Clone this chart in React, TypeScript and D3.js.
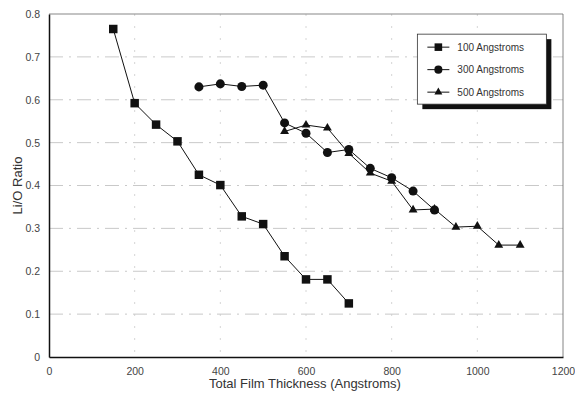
import React, { useRef, useEffect } from 'react'
import * as d3 from 'd3'

const xTicks = [0, 200, 400, 600, 800, 1000, 1200]
const yTicks = [0, 0.1, 0.2, 0.3, 0.4, 0.5, 0.6, 0.7, 0.8]

const thick100 = [150, 200, 250, 300, 350, 400, 450, 500, 550, 600, 650, 700]
const ratio100 = [0.765, 0.592, 0.542, 0.503, 0.425, 0.401, 0.328, 0.31, 0.235, 0.181, 0.181, 0.125]

const thick300 = [350, 400, 450, 500, 550, 600, 650, 700, 750, 800, 850, 900]
const ratio300 = [0.63, 0.637, 0.631, 0.634, 0.546, 0.522, 0.477, 0.484, 0.44, 0.418, 0.387, 0.343]

const thick500 = [550, 600, 650, 700, 750, 800, 850, 900, 950, 1000, 1050, 1100]
const ratio500 = [0.526, 0.541, 0.534, 0.475, 0.429, 0.41, 0.343, 0.345, 0.303, 0.305, 0.261, 0.261]

const seriesNames = ['100 Angstroms', '300 Angstroms', '500 Angstroms']

const W = 575
const H = 395

export default function App() {
  const svgRef = useRef<SVGSVGElement>(null)

  useEffect(() => {
    if (!svgRef.current) return
    const svg = d3.select(svgRef.current)
    svg.selectAll('*').remove()

    const margin = { top: 14, right: 12, bottom: 38, left: 49 }
    const width = W - margin.left - margin.right
    const height = H - margin.top - margin.bottom
    const font = 'Liberation Sans, Arial, sans-serif'

    const g = svg.append('g').attr('transform', `translate(${margin.left},${margin.top})`)

    const x = d3.scaleLinear().domain([0, 1200]).range([0, width])
    const y = d3.scaleLinear().domain([0, 0.8]).range([height, 0])

    // faint broken grid, like the scanned original
    g.append('g')
      .selectAll('line')
      .data(yTicks.slice(1, -1))
      .join('line')
      .attr('x1', 0).attr('x2', width)
      .attr('y1', d => y(d)).attr('y2', d => y(d))
      .attr('stroke', '#bbb')
      .attr('stroke-width', 0.8)
      .attr('stroke-dasharray', '14,6,2,6')

    g.append('g')
      .selectAll('line')
      .data(xTicks.slice(1, -1))
      .join('line')
      .attr('x1', d => x(d)).attr('x2', d => x(d))
      .attr('y1', 0).attr('y2', height)
      .attr('stroke', '#ccc')
      .attr('stroke-width', 0.8)
      .attr('stroke-dasharray', '2,10')

    // frame
    g.append('line').attr('x1', 0).attr('x2', width).attr('y1', 0).attr('y2', 0)
      .attr('stroke', '#888').attr('stroke-width', 1.2)
    g.append('line').attr('x1', width).attr('x2', width).attr('y1', 0).attr('y2', height)
      .attr('stroke', '#666').attr('stroke-width', 0.8)

    const xAxis = g.append('g')
      .attr('transform', `translate(0,${height})`)
      .call(d3.axisBottom(x).tickValues(xTicks).tickSize(0).tickPadding(11).tickFormat(d3.format('d')))
    xAxis.select('.domain').attr('stroke', '#111').attr('stroke-width', 1.5)
    xAxis.selectAll('text').attr('font-family', font).attr('font-size', 10.5).attr('fill', '#444')

    const yAxis = g.append('g')
      .call(d3.axisLeft(y).tickValues(yTicks).tickSize(0).tickPadding(9)
        .tickFormat(d => (+d === 0 ? '0' : d3.format('.1f')(+d))))
    yAxis.select('.domain').attr('stroke', '#111').attr('stroke-width', 1.5)
    yAxis.selectAll('text').attr('font-family', font).attr('font-size', 10.5).attr('fill', '#444')

    const series = [
      { name: seriesNames[0], xs: thick100, ys: ratio100, sym: d3.symbolSquare, size: 72 },
      { name: seriesNames[1], xs: thick300, ys: ratio300, sym: d3.symbolCircle, size: 64 },
      { name: seriesNames[2], xs: thick500, ys: ratio500, sym: d3.symbolTriangle, size: 34 },
    ]

    const line = d3.line<[number, number]>()
      .x(d => x(d[0]))
      .y(d => y(d[1]))

    series.forEach(s => {
      const pts: [number, number][] = s.xs.map((v, i) => [v, s.ys[i]])
      g.append('path')
        .datum(pts)
        .attr('fill', 'none')
        .attr('stroke', '#111')
        .attr('stroke-width', 1)
        .attr('d', line)
      g.append('g')
        .selectAll('path')
        .data(pts)
        .join('path')
        .attr('transform', d => `translate(${x(d[0])},${y(d[1])})`)
        .attr('d', d3.symbol(s.sym, s.size)())
        .attr('fill', '#111')
    })

    // legend
    const lx = x(860)
    const ly = y(0.753)
    const lw = 129
    const lh = 70
    const leg = g.append('g').attr('transform', `translate(${lx},${ly})`)
    leg.append('rect').attr('x', 5).attr('y', 5).attr('width', lw).attr('height', lh).attr('fill', '#111')
    leg.append('rect').attr('width', lw).attr('height', lh).attr('fill', '#fff')
      .attr('stroke', '#333').attr('stroke-width', 0.8)
    series.forEach((s, i) => {
      const yy = 13 + i * 22.5
      leg.append('line').attr('x1', 10).attr('x2', 32).attr('y1', yy).attr('y2', yy)
        .attr('stroke', '#111').attr('stroke-width', 1)
      leg.append('path').attr('transform', `translate(21,${yy})`)
        .attr('d', d3.symbol(s.sym, s.size * 0.8)()).attr('fill', '#111')
      leg.append('text').attr('x', 40).attr('y', yy).attr('dy', '0.35em')
        .attr('font-family', font).attr('font-size', 10).attr('fill', '#333')
        .text(s.name)
    })

    // axis titles
    svg.append('text')
      .attr('x', margin.left + width / 2 - 1)
      .attr('y', H - 7)
      .attr('text-anchor', 'middle')
      .attr('font-family', font).attr('font-size', 13).attr('fill', '#333')
      .text('Total Film Thickness (Angstroms)')
    svg.append('text')
      .attr('transform', `translate(22,${margin.top + height / 2}) rotate(-90)`)
      .attr('text-anchor', 'middle')
      .attr('font-family', font).attr('font-size', 13).attr('fill', '#333')
      .text('Li/O Ratio')
  }, [])

  return (
    <svg
      ref={svgRef}
      width={W}
      height={H}
      style={{ position: 'absolute', left: 0, top: 0, background: '#fff' }}
    />
  )
}
